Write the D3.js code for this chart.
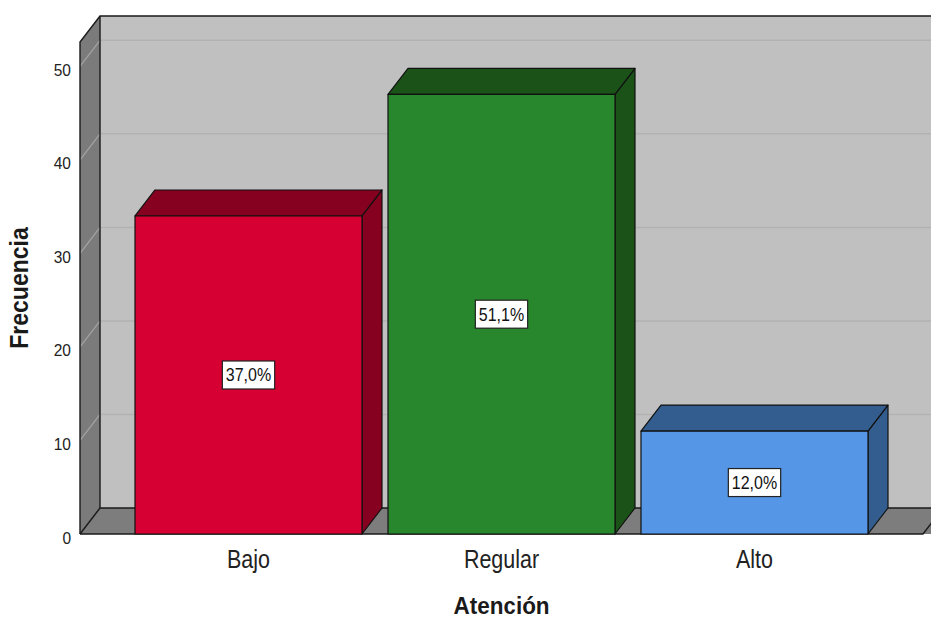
<!DOCTYPE html>
<html>
<head>
<meta charset="utf-8">
<script src="https://cdn.jsdelivr.net/npm/d3@7"></script>
<style>
  html, body { margin: 0; padding: 0; background: #fff; }
  svg { display: block; font-family: "Liberation Sans", Arial, sans-serif; }
</style>
</head>
<body>
<svg id="chart" width="931" height="620"></svg>
<script>
// Atención: frecuencia por nivel
const categories = ["Bajo", "Regular", "Alto"];
const frequencies = [34, 47, 11];
const percentLabels = ["37,0%", "51,1%", "12,0%"];
const yTicks = [0, 10, 20, 30, 40, 50];

const frontColors = ["#d70033", "#28862c", "#5596e6"];
const darkColors  = ["#86001f", "#1a5218", "#345d8f"];

const W = 931, H = 620;
const DX = 20, DY = -26;           // 3D depth offset
const svg = d3.select("#chart");

const y = d3.scaleLinear().domain([0, 52.6]).range([534, 42]);
const x = d3.scaleBand().domain(categories).range([122, 881])
  .paddingInner(26 / 253).paddingOuter(13 / 253);

const xL = 80, xR = 923;           // front edges of the floor
const y0 = y(0), yTop = y(52.6);

// text drawn slightly taller than wide
function tallText(parent, tx, ty, sy, extra) {
  return parent.append("text")
    .attr("transform", `translate(${tx},${ty}) ${extra || ""} scale(1,${sy})`)
    .attr("x", 0).attr("y", 0);
}

// Back wall
svg.append("polygon")
  .attr("points", [[xL + DX, yTop + DY], [xR + DX + 40, yTop + DY], [xR + DX + 40, y0 + DY], [xL + DX, y0 + DY]].join(" "))
  .attr("fill", "#c0c0c0");

// Left wall
svg.append("polygon")
  .attr("points", [[xL, yTop], [xL + DX, yTop + DY], [xL + DX, y0 + DY], [xL, y0]].join(" "))
  .attr("fill", "#7b7b7b");

// Floor
svg.append("polygon")
  .attr("points", [[xL, y0], [xL + DX, y0 + DY], [xR + DX + 40, y0 + DY], [xR + 40, y0]].join(" "))
  .attr("fill", "#7d7d7d");

// Gridlines on back wall and left wall
const grid = svg.append("g");
yTicks.filter(t => t > 0).forEach(t => {
  grid.append("line")
    .attr("x1", xL + DX).attr("x2", W + 10)
    .attr("y1", y(t) + DY).attr("y2", y(t) + DY)
    .attr("stroke", "#b2b2b2").attr("stroke-width", 1.5);
  grid.append("line")
    .attr("x1", xL).attr("x2", xL + DX)
    .attr("y1", y(t)).attr("y2", y(t) + DY)
    .attr("stroke", "#a4a4a4").attr("stroke-width", 1.2);
});

// Wall edges
function line(pts) {
  svg.append("polyline").attr("points", pts.join(" "))
    .attr("stroke", "#1a1a1a").attr("stroke-width", 1.4).attr("fill", "none");
}
line([[xL, y0], [xL, yTop], [xL + DX, yTop + DY], [W + 10, yTop + DY]]);
line([[xL + DX, yTop + DY], [xL + DX, y0 + DY], [W + 10, y0 + DY]]);
line([[xL, y0], [xL + DX, y0 + DY]]);
line([[xL, y0], [xR, y0], [xR + DX, y0 + DY]]);

// Bars
const bars = svg.append("g");
categories.forEach((c, i) => {
  const x0 = x(c), x1 = x(c) + x.bandwidth();
  const yt = y(frequencies[i]);
  const g = bars.append("g").attr("stroke", "#111").attr("stroke-width", 1.2).attr("stroke-linejoin", "round");
  // side
  g.append("polygon")
    .attr("points", [[x1, yt], [x1 + DX, yt + DY], [x1 + DX, y0 + DY], [x1, y0]].join(" "))
    .attr("fill", darkColors[i]);
  // top
  g.append("polygon")
    .attr("points", [[x0, yt], [x0 + DX, yt + DY], [x1 + DX, yt + DY], [x1, yt]].join(" "))
    .attr("fill", darkColors[i]);
  // front
  g.append("rect")
    .attr("x", x0).attr("y", yt).attr("width", x1 - x0).attr("height", y0 - yt)
    .attr("fill", frontColors[i]);

  // value label box
  const cx = x0 + x.bandwidth() / 2, cy = (yt + y0) / 2;
  const lbl = svg.append("g");
  const t = tallText(lbl, cx, cy + 6.5, 1.12)
    .attr("text-anchor", "middle")
    .attr("font-size", 16).attr("fill", "#111")
    .text(percentLabels[i]);
  const w = t.node().getBBox().width + 7;
  lbl.insert("rect", "text")
    .attr("x", cx - w / 2).attr("y", cy - 14).attr("width", w).attr("height", 28)
    .attr("fill", "#fff").attr("stroke", "#222").attr("stroke-width", 1.2);
});

// Y tick labels
const yAxisLabels = svg.append("g");
yTicks.forEach(d => {
  tallText(yAxisLabels, 71, y(d) + 9.5, 1.1)
    .attr("text-anchor", "end").attr("font-size", 15.5).attr("fill", "#222")
    .text(d);
});

// X tick labels
const xAxisLabels = svg.append("g");
categories.forEach(d => {
  tallText(xAxisLabels, x(d) + x.bandwidth() / 2, 568, 1.18)
    .attr("text-anchor", "middle").attr("font-size", 21.5).attr("fill", "#222")
    .text(d);
});

// Axis titles
tallText(svg, 501.5, 614, 1.1)
  .attr("text-anchor", "middle").attr("font-size", 22.5).attr("font-weight", "bold").attr("fill", "#1a1a1a")
  .text("Atención");
tallText(svg, 28, 288, 1.13, "rotate(-90)")
  .attr("text-anchor", "middle").attr("font-size", 23).attr("font-weight", "bold").attr("fill", "#1a1a1a")
  .text("Frecuencia");
</script>
</body>
</html>
